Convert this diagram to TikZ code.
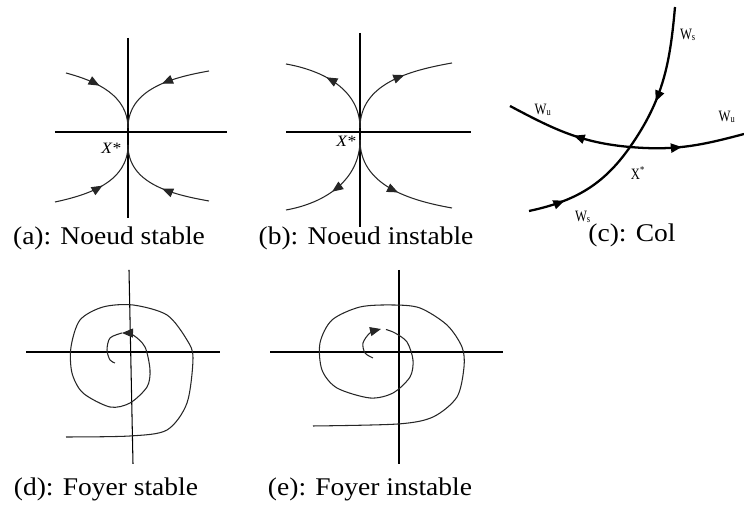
\documentclass[tikz,border=0pt]{standalone}
\usepackage{fontspec}
\setmainfont{Liberation Serif}
\usetikzlibrary{arrows.meta,decorations.markings}

\begin{document}
\begin{tikzpicture}[
    >={Triangle[length=2.2mm,width=1.8mm]},
    axis/.style={
        line width=0.6pt,
        black
    },
    orbit/.style={
        line width=0.6pt,
        black!85
    },
    manifold/.style={
        line width=1.3pt,
        black
    },
    flow/.style={
        postaction={decorate,
            decoration={markings,
                mark=at position #1 with {\arrow{>}}}}
    },
    backflow/.style={
        postaction={decorate,
            decoration={markings,
                mark=at position #1 with {\arrowreversed{>}}}}
    },
    caption/.style={
        anchor=base,
        xscale=1.08,
        font=\fontsize{14.5}{16}\selectfont
    },
    fixpt/.style={
        xscale=1.1,
        font=\fontsize{9}{10}\selectfont\itshape
    },
    manlabel/.style={
        xscale=0.8,
        font=\fontsize{9}{10}\selectfont
    }]

\useasboundingbox (0,0) rectangle (14.88,10.14);

% (a) noeud stable
\begin{scope}[shift={(2.56,7.50)}]
\draw[axis] (0,1.88) -- (0,-1.72);
\draw[axis] (-1.46,0) -- (1.98,0);
\draw[orbit, flow=0.4] (-1.24,1.18) to[out=-15,in=90] (0,0.08);
\draw[orbit, flow=0.45] (1.62,1.22) to[out=190,in=90] (0,0.08);
\draw[orbit, flow=0.5] (-1.46,-1.40) to[out=12,in=-90] (0,-0.26);
\draw[orbit, flow=0.45] (1.62,-1.38) to[out=170,in=-90] (0,-0.26);
\node[fixpt] (xa) at (-0.34,-0.32) {X*};
\end{scope}

% (b) noeud instable
\begin{scope}[shift={(7.20,7.50)}]
\draw[axis] (0,1.98) -- (0,-1.90);
\draw[axis] (-1.48,0) -- (2.22,0);
\draw[orbit, flow=0.6] (0,0.08) to[out=90,in=-10] (-1.48,1.36);
\draw[orbit, flow=0.6] (0,0.08) to[out=90,in=190] (1.84,1.38);
\draw[orbit, flow=0.55] (0,-0.16) to[out=-90,in=10] (-1.48,-1.56);
\draw[orbit, flow=0.55] (0,-0.16) to[out=-90,in=170] (1.84,-1.52);
\node[fixpt] (xb) at (-0.28,-0.18) {X*};
\end{scope}

% (c) col
\begin{scope}[shift={(12.60,7.20)}]
\draw[manifold, flow=0.3] (-2.02,-1.28) to[out=12,in=-125] (0,0);
\draw[manifold, backflow=0.35] (0,0) to[out=55,in=-95] (0.90,2.80);
\draw[manifold, backflow=0.55] (-2.40,0.82) to[out=-28,in=175] (0,0);
\draw[manifold, flow=0.45] (0,0) to[out=-5,in=195] (2.28,0.26);
\node[manlabel] (ws1) at (1.16,2.24) {W\textsubscript{s}};
\node[manlabel] (ws2) at (-0.94,-1.40) {W\textsubscript{s}};
\node[manlabel] (wu1) at (-1.74,0.74) {W\textsubscript{u}};
\node[manlabel] (wu2) at (1.94,0.60) {W\textsubscript{u}};
\node[manlabel] (xc) at (0.16,-0.52) {X\textsuperscript{*}};
\end{scope}

% (d) foyer stable
\begin{scope}[shift={(2.60,3.10)}]
\draw[axis] (-0.02,1.64) -- (0.06,-2.24);
\draw[axis] (-2.08,0) -- (1.80,0);
\draw[orbit, ->]
plot[smooth] coordinates {(-1.28,-1.70) (0,-1.68) (0.74,-1.56)
    (1.14,-1.02) (1.26,-0.12) (1.14,0.24) (0.74,0.74) (0.06,0.94)
    (-0.54,0.90) (-1.00,0.64) (-1.18,0.10) (-1.16,-0.42) (-0.94,-0.82)
    (-0.40,-1.10) (0,-1.02) (0.34,-0.70) (0.40,-0.36) (0.30,0.10)
    (0.06,0.34) (-0.16,0.38)};
\draw[orbit]
plot[smooth] coordinates {(-0.16,0.38) (-0.40,0.28) (-0.46,0.04)
    (-0.40,-0.16) (-0.30,-0.22)};
\end{scope}

% (e) foyer instable
\begin{scope}[shift={(7.98,3.10)}]
\draw[axis] (0,1.64) -- (0,-2.24);
\draw[axis] (-2.58,0) -- (2.08,0);
\draw[orbit]
plot[smooth] coordinates {(-1.72,-1.48) (-0.02,-1.44) (0.68,-1.30)
    (1.16,-0.90) (1.30,-0.30) (1.26,0.10) (0.96,0.54) (0.42,0.88)
    (-0.12,0.94) (-0.78,0.90) (-1.34,0.64) (-1.58,0.18) (-1.54,-0.36)
    (-1.24,-0.72) (-0.58,-0.92) (-0.12,-0.82) (0.22,-0.50) (0.28,-0.16)
    (0.16,0.20) (-0.08,0.38) (-0.26,0.45)};
\draw[orbit, ->]
plot[smooth] coordinates {(-0.52,-0.12) (-0.68,-0.02) (-0.72,0.18)
    (-0.58,0.38) (-0.36,0.46)};
\end{scope}

% Legendes
\node[caption] (capa) at (2.18,5.24) {(a): Noeud stable};
\node[caption] (capb) at (7.32,5.24) {(b): Noeud instable};
\node[caption] (capc) at (12.64,5.30) {(c): Col};
\node[caption] (capd) at (2.12,0.22) {(d): Foyer stable};
\node[caption] (cape) at (7.40,0.22) {(e): Foyer instable};

\end{tikzpicture}
\end{document}
